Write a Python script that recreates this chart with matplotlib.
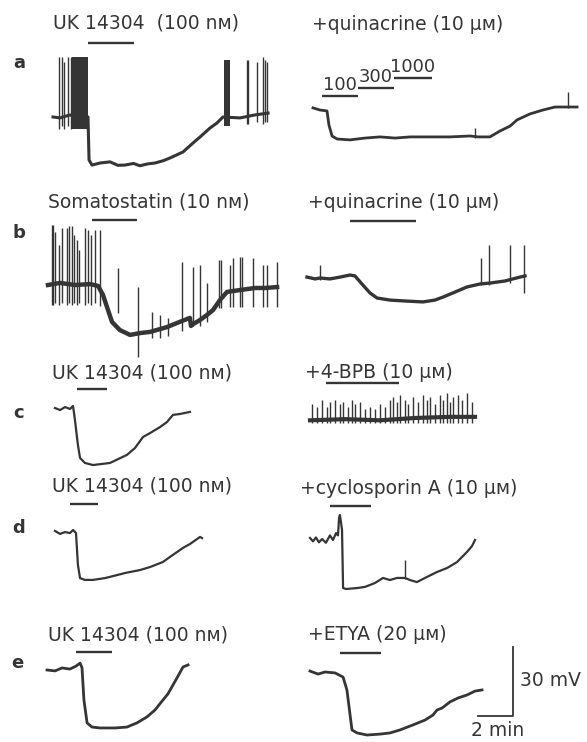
import matplotlib
matplotlib.use("Agg")
import matplotlib.pyplot as plt
from matplotlib.transforms import Affine2D, blended_transform_factory

# scale of the recording: px per minute / px per mV on the page
PX_MIN = 17.5
PX_MV = 2.3
REST = -60

INK = "#353535"
FONT = ["DejaVu Sans"]

# ---------------- data (time in min, potential in mV) ----------------
# a, control: UK 14304
a1_t = [0, 0.4, 0.97, 1.5, 2.0, 2.06, 2.23, 2.69, 3.26, 3.7, 4.11, 4.6, 4.97, 5.4, 5.83, 6.3, 6.69, 7.43, 8.0, 8.4, 8.97, 9.37, 9.71, 10.69, 11.54, 12.29]
a1_v = [-60, -60.4, -59.1, -60.5, -60, -78.7, -80.9, -80, -79.5, -81, -80.9, -80.2, -81.2, -80.4, -80, -79, -77.8, -75.2, -71.3, -68.7, -64.8, -62.6, -60, -60.4, -59.1, -58.3]
a1_spk_t = [0.36, 0.5, 0.63, 0.87, 1.01, 11.09, 11.17, 11.66, 12.0, 12.11, 12.23]
a1_spk_top = [-34, -34, -36, -34, -34, -35, -35, -36, -34, -35, -36]
a1_spk_bot = [-65, -64, -65, -64, -65, -63, -63, -62, -63, -62, -62]
a1_burst = [(1.07, 1.99, -65, -34), (9.77, 10.11, -64, -35)]
a1_drug = (2.0, 4.63)

# a, + quinacrine: UK 14304 at 100, 300, 1000 nM
a2_t = [0, 0.4, 0.8, 0.91, 1.09, 1.37, 2.11, 2.97, 3.83, 4.69, 5.54, 6.69, 7.83, 8.97, 9.43, 10.11, 10.69, 11.26, 11.66, 12.4, 13.14, 13.83, 14.4, 15.09]
a2_v = [-59.1, -60, -60.4, -66.5, -71.3, -72.6, -73, -72.2, -71.7, -72.2, -71.7, -71.7, -71.7, -71.3, -71.7, -71.7, -69.1, -67, -64.3, -61.7, -60, -58.7, -58.7, -58.7]
a2_spk_t = [9.26, 14.57]
a2_spk_top = [-68, -52]
a2_spk_bot = [-72, -59]
a2_doses = ["100", "300", "1000"]
a2_drug = [(0.51, 2.57), (2.57, 4.63), (4.63, 6.8)]

# b, control: somatostatin
b1_t = [0, 0.69, 1.54, 2.4, 2.86, 3.14, 3.43, 3.66, 4.11, 4.69, 5.26, 5.83, 6.8, 7.54, 8.11, 8.17, 8.29, 8.69, 9.09, 9.43, 9.83, 10.23, 10.97, 11.83, 12.4, 13.09]
b1_v = [-60, -59.1, -60, -59.6, -60.4, -64.3, -70.9, -76.1, -79.6, -81.7, -80.9, -80.4, -78.3, -76, -74.3, -77.8, -77, -75.2, -73, -70.9, -66.5, -63, -62.2, -61.3, -61.3, -60.9]
b1_spk_t = [0.21, 0.3, 0.4, 0.65, 0.78, 1.07, 1.2, 1.35, 1.49, 1.64, 1.79, 2.11, 2.3, 2.46, 2.69, 2.97,
            4.02, 5.16, 5.93, 6.4, 6.87, 7.64, 8.3, 8.69, 9.07, 9.77, 9.87, 10.4, 10.59, 10.97, 11.07, 11.73, 12.3, 12.5, 13.07]
b1_spk_top = [-33.9, -33.9, -37, -42.6, -35.2, -35.2, -34.3, -34.3, -38.3, -40.4, -44.8, -35.2, -36.1, -38.3, -36.1, -36.1,
              -52.6, -60.9, -71.7, -73, -74.3, -50, -52.2, -51.3, -59.1, -49.1, -49.1, -51.3, -48.3, -47.8, -47.8, -48.3, -51.3, -51.3, -50]
b1_spk_bot = [-68.7, -68.7, -68, -68.7, -68, -68.7, -68, -68.7, -68, -68.7, -68, -68.7, -68, -68.7, -68, -69,
              -72, -91.3, -83, -83, -82, -80, -78, -78, -76, -70, -70, -69.5, -69.5, -69.5, -69.5, -69.5, -69.5, -69.5, -69.5]
b1_drug = (2.51, 5.09)

# b, + quinacrine: somatostatin
b2_t = [0, 0.46, 0.74, 1.31, 1.89, 2.46, 2.74, 3.14, 3.6, 4.0, 4.74, 5.6, 6.63, 7.31, 7.77, 8.46, 9.14, 9.89, 10.46, 11.31, 12.17, 12.46]
b2_v = [-59.6, -60.4, -60, -60.4, -59.6, -58.7, -59.1, -62.6, -66.5, -68.7, -69.6, -70, -70.4, -69.6, -68.3, -66.1, -63.9, -62.6, -62.2, -61.3, -59.6, -59.1]
b2_spk_t = [0.74, 9.94, 10.4, 11.6, 12.4]
b2_spk_top = [-54.3, -51.3, -45.7, -45.7, -45.7]
b2_spk_bot = [-61, -63, -63, -62, -66.5]
b2_drug = (2.46, 6.23)

# c, control: UK 14304
c1_t = [0, 0.29, 0.57, 0.86, 1.03, 1.14, 1.31, 1.43, 1.71, 2.17, 3.14, 4.11, 4.57, 5.03, 5.43, 6.0, 6.4, 6.74, 7.14, 7.71]
c1_v = [-60, -60.9, -59.6, -60.4, -59.1, -65.2, -76.1, -81.7, -83.9, -84.8, -83.9, -80.4, -77.4, -72.6, -70.9, -68.3, -66.1, -63, -62.6, -61.7]
c1_drug = (1.26, 2.97)

# c, + 4-BPB: UK 14304
c2_t = [0, 2.0, 4.0, 6.0, 8.0, 9.43]
c2_v = [-61, -60.5, -61, -60, -59.5, -59.5]
c2_spk_t = [0.1, 0.38, 0.67, 0.95, 1.14, 1.43, 1.71, 1.9, 2.19, 2.38, 2.57, 2.86, 3.14, 3.43, 3.71, 4.0, 4.29, 4.57, 4.76,
            4.95, 5.14, 5.43, 5.62, 5.9, 6.19, 6.48, 6.67, 6.86, 7.14, 7.43, 7.62, 7.81, 8.0, 8.19, 8.48, 8.67, 8.95, 9.24]
c2_spk_top = [-54, -55, -52, -55, -53, -52, -54, -53, -55, -52, -54, -53, -56, -55, -56, -54, -55, -52, -51,
              -53, -50, -52, -54, -51, -53, -50, -52, -51, -54, -50, -52, -49, -53, -51, -50, -52, -49, -53]
c2_spk_bot = [-62] * len(c2_spk_t)
c2_drug = (0.91, 5.09)

# d, control: UK 14304
d1_t = [0, 0.29, 0.57, 0.86, 1.03, 1.2, 1.31, 1.43, 1.71, 2.17, 2.86, 3.54, 4.0, 4.86, 5.43, 6.17, 6.57, 7.31, 7.71, 8.29, 8.4]
d1_v = [-59.1, -60.4, -59.6, -60, -58.7, -60, -73.9, -79.6, -80.4, -80.4, -79.6, -78.3, -77.4, -76.1, -74.8, -72.6, -70.4, -66.5, -64.8, -61.7, -62.2]
d1_drug = (0.86, 2.46)

# d, + cyclosporin A: UK 14304
d2_t = [0, 0.17, 0.34, 0.51, 0.69, 0.91, 1.14, 1.31, 1.49, 1.6, 1.66, 1.71, 1.77, 1.83, 1.89, 2.06, 2.69, 3.14, 3.71, 4.17,
        4.57, 4.97, 5.43, 5.71, 6.11, 6.57, 7.26, 7.83, 8.4, 8.97, 9.26, 9.43]
d2_v = [-59.1, -60.6, -58.9, -61, -59.6, -61.2, -58, -60, -57, -58, -50.4, -49.1, -52.2, -55.7, -80.9, -81.3, -80.9, -80.4,
        -78.7, -76.5, -77.4, -76.5, -76.5, -77.4, -78.3, -76.5, -73.9, -72.2, -69.6, -65.2, -62.6, -60]
d2_spk_t = [5.43]
d2_spk_top = [-68.7]
d2_spk_bot = [-77]
d2_drug = (1.14, 3.49)

# e, control: UK 14304
e1_t = [0, 0.46, 0.86, 1.31, 1.66, 1.89, 2.0, 2.11, 2.29, 2.57, 3.03, 3.89, 4.57, 5.14, 5.71, 6.17, 6.63, 6.91, 7.2, 7.49, 7.77, 8.06]
e1_v = [-60, -60.4, -59.1, -59.6, -58.3, -57, -59, -73, -83, -84.8, -85.2, -85.2, -84.8, -83, -80.4, -77.4, -73, -70.4, -66.5, -62.6, -58.7, -57.8]
e1_drug = (1.66, 3.71)

# e, + ETYA: UK 14304
e2_t = [0, 0.46, 0.86, 1.43, 1.89, 2.11, 2.29, 2.4, 2.69, 3.26, 4.0, 4.57, 5.14, 5.89, 6.57, 7.03, 7.26, 7.54, 8.0, 8.46, 8.97, 9.43, 9.83]
e2_v = [-59.6, -60.9, -60, -60.4, -62.2, -67.8, -78.7, -85.2, -86.5, -87.4, -87, -86.5, -85.2, -83, -80.9, -78.7, -76.5, -75.7, -73, -71.3, -70, -68.3, -67.8]
e2_drug = (1.71, 4.06)

SCALE_MIN = 2
SCALE_MV = 30

# ---------------- figure ----------------
W, H = 587, 742
fig = plt.figure(figsize=(W / 100, H / 100), dpi=100)
ax = fig.add_axes([0, 0, 1, 1])
ax.set_xlim(0, W)
ax.set_ylim(H, 0)
ax.axis("off")


def trace_tf(x0, y0):
    # place a recording with its start at x0 and resting level at y0 (page px)
    return Affine2D().scale(PX_MIN, -PX_MV).translate(x0, y0 + REST * PX_MV) + ax.transData


def draw(x0, y0, t, v, lw=1.6, spikes=None, bursts=None):
    tf = trace_tf(x0, y0)
    ax.plot(t, v, color=INK, lw=lw, transform=tf, solid_joinstyle="round")
    if spikes:
        st, top, bot = spikes
        ax.vlines(st, bot, top, color=INK, lw=1.0, transform=tf)
    if bursts:
        for t0, t1, lo, hi in bursts:
            ax.fill_between([t0, t1], [lo, lo], [hi, hi], color=INK, lw=0, transform=tf)
    return tf


def bar(tf, span, y, lw=1.7):
    btf = blended_transform_factory(tf, ax.transData)
    ax.plot(span, [y, y], color=INK, lw=lw, transform=btf, solid_capstyle="butt")


def label(x, y, s, size=13.5):
    ax.text(x, y, s, fontsize=size, family=FONT, color=INK, ha="left", va="center")


def letter(x, y, s):
    ax.text(x, y, s, fontsize=13, family=FONT, color=INK, ha="center", va="center", weight="bold")


# row a
tf = draw(53, 117, a1_t, a1_v, lw=2.2, spikes=(a1_spk_t, a1_spk_top, a1_spk_bot), bursts=a1_burst)
bar(tf, a1_drug, 43)
label(53, 23, "UK 14304  (100 nᴍ)")
tf = draw(313, 110, a2_t, a2_v, lw=2.0, spikes=(a2_spk_t, a2_spk_top, a2_spk_bot))
btf = blended_transform_factory(tf, ax.transData)
for span, y, dose in zip(a2_drug, [96, 88, 78], a2_doses):
    bar(tf, span, y)
    ax.text(sum(span) / 2, y - 11, dose, fontsize=13, family=FONT, color=INK, ha="center", va="center",
            transform=btf)
label(312, 25, "+quinacrine (10 μᴍ)")
letter(19, 63, "a")

# row b
tf = draw(48, 285, b1_t, b1_v, lw=3.2, spikes=(b1_spk_t, b1_spk_top, b1_spk_bot))
bar(tf, b1_drug, 220)
label(48, 202, "Somatostatin (10 nᴍ)")
tf = draw(307, 278, b2_t, b2_v, lw=2.4, spikes=(b2_spk_t, b2_spk_top, b2_spk_bot))
bar(tf, b2_drug, 221)
label(308, 203, "+quinacrine (10 μᴍ)")
letter(19, 233, "b")

# row c
tf = draw(55, 408, c1_t, c1_v)
bar(tf, c1_drug, 389)
label(52, 373, "UK 14304 (100 nᴍ)")
tf = draw(310, 418, c2_t, c2_v, lw=3.0, spikes=(c2_spk_t, c2_spk_top, c2_spk_bot))
bar(tf, c2_drug, 383)
label(305, 372, "+4-BPB (10 μᴍ)")
letter(19, 413, "c")

# row d
tf = draw(55, 533, d1_t, d1_v)
bar(tf, d1_drug, 504)
label(52, 486, "UK 14304 (100 nᴍ)")
tf = draw(310, 540, d2_t, d2_v, spikes=(d2_spk_t, d2_spk_top, d2_spk_bot))
bar(tf, d2_drug, 506)
label(300, 488, "+cyclosporin A (10 μᴍ)")
letter(19, 528, "d")

# row e
tf = draw(47, 670, e1_t, e1_v, lw=2.0)
bar(tf, e1_drug, 652)
label(48, 635, "UK 14304 (100 nᴍ)")
tf = draw(310, 672, e2_t, e2_v, lw=2.0)
bar(tf, e2_drug, 653)
label(308, 635, "+ETYA (20 μᴍ)")
letter(17, 663, "e")

# scale bar (corner at 513, 716)
stf = trace_tf(513, 716)
ax.plot([-SCALE_MIN, 0, 0], [REST, REST, REST + SCALE_MV], color=INK, lw=1.3, transform=stf)
label(520, 680, f"{SCALE_MV} mV")
ax.text(498, 731, f"{SCALE_MIN} min", fontsize=13.5, family=FONT, color=INK, ha="center", va="center")

fig.savefig("out.png", dpi=100, facecolor="white")
